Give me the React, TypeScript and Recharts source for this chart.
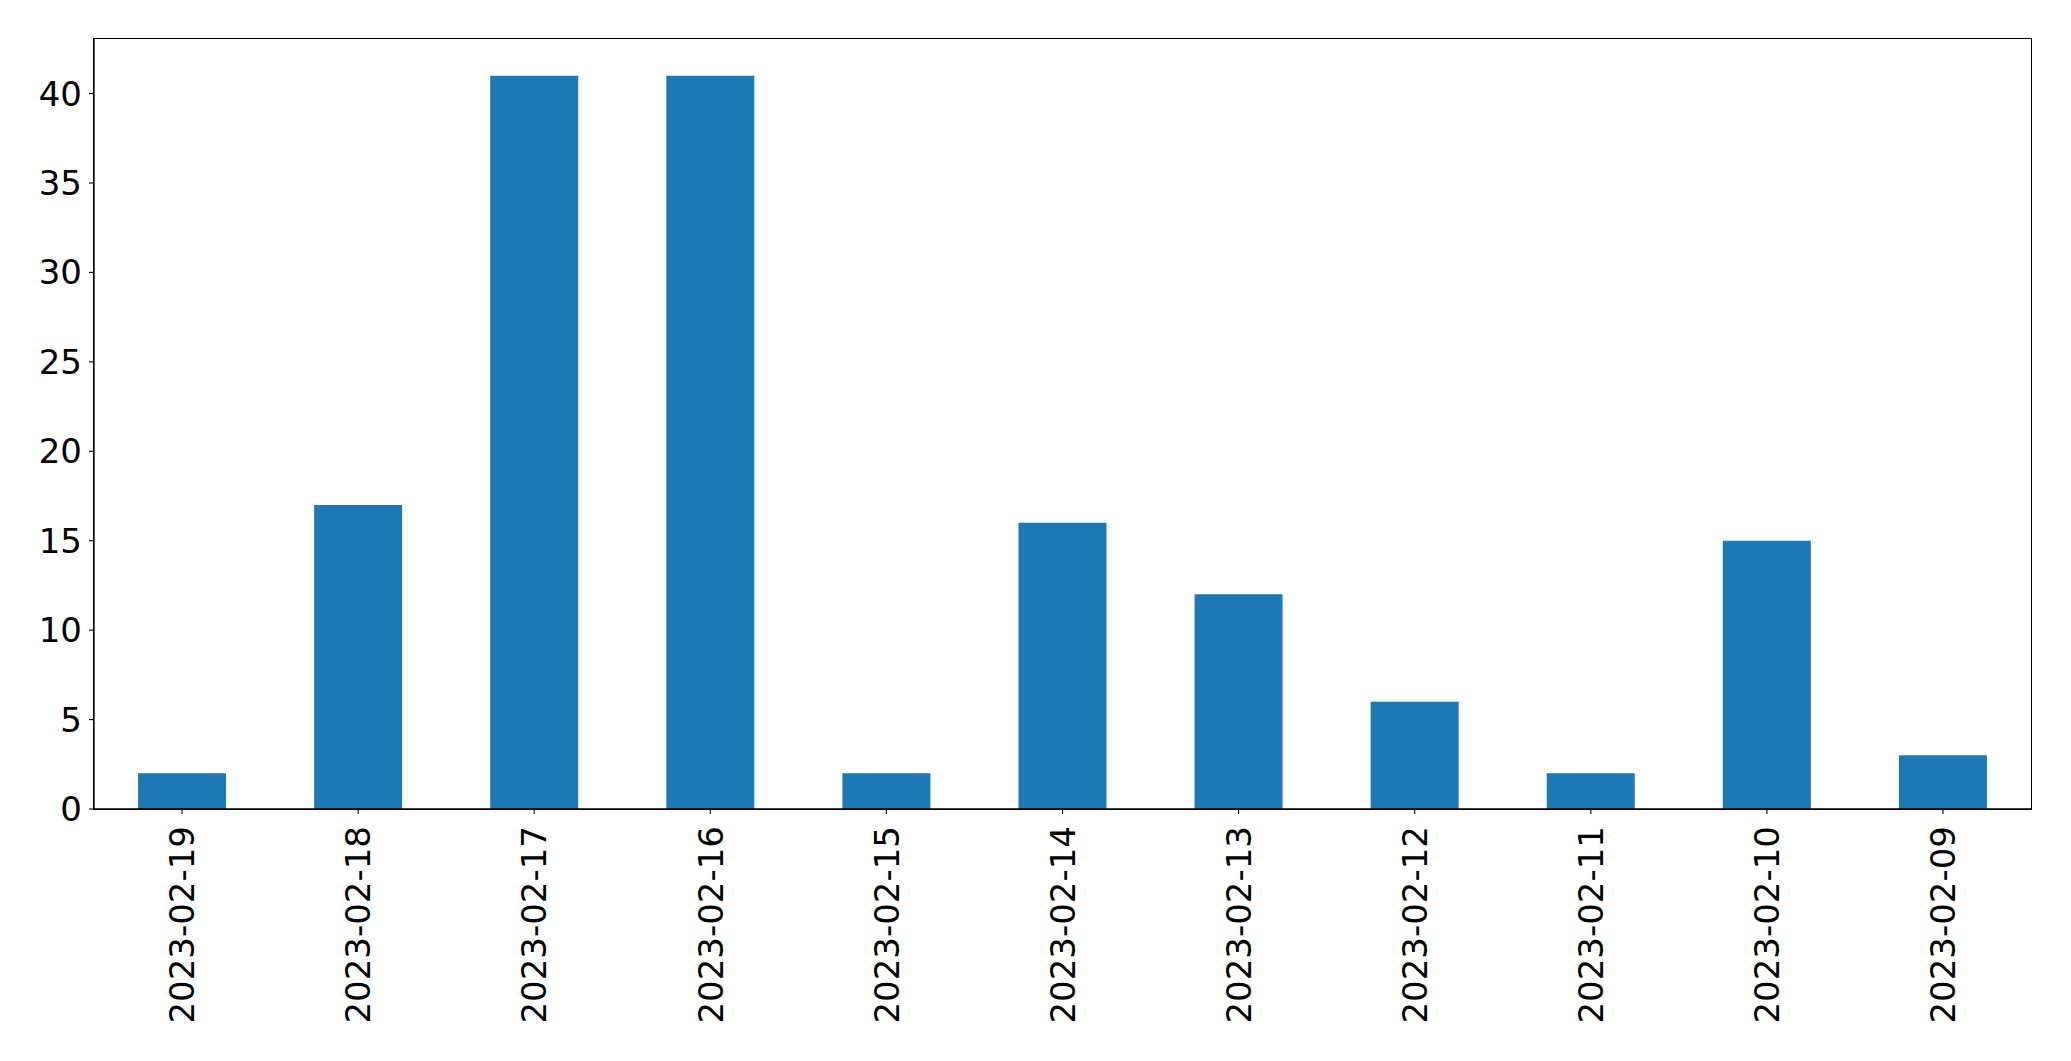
import React from "react"
import { Bar, BarChart, XAxis, YAxis } from "recharts"

const dates = [
  "2023-02-19",
  "2023-02-18",
  "2023-02-17",
  "2023-02-16",
  "2023-02-15",
  "2023-02-14",
  "2023-02-13",
  "2023-02-12",
  "2023-02-11",
  "2023-02-10",
  "2023-02-09",
]
const counts = [2, 17, 41, 41, 2, 16, 12, 6, 2, 15, 3]
const yTicks = [0, 5, 10, 15, 20, 25, 30, 35, 40]

const data = dates.map((date, i) => ({ date, count: counts[i] }))

const FONT = "DejaVu Sans"
const FONT_SIZE = 34

const W = 2071
const H = 1061
const M = { top: 39, right: 40, left: 94, bottom: 252 }

const DateTick = (props: any) => {
  const { x, y, payload } = props
  const ty = y + 10
  return (
    <text
      x={x}
      y={ty}
      transform={`rotate(-90, ${x}, ${ty})`}
      textAnchor="end"
      dy="0.36em"
      fontFamily={FONT}
      fontSize={FONT_SIZE}
      fill="#000"
    >
      {payload.value}
    </text>
  )
}

export default function App() {
  return (
    <div style={{ position: "absolute", left: 0, top: 0, width: W, height: H, background: "#fff" }}>
      <BarChart
        width={W}
        height={H}
        data={data}
        margin={{ top: M.top, right: M.right, left: 0, bottom: 0 }}
        barCategoryGap="25%"
      >
        <XAxis
          dataKey="date"
          height={M.bottom}
          interval={0}
          tick={<DateTick />}
          tickSize={5}
          axisLine={{ stroke: "#000", strokeWidth: 1.3 }}
          tickLine={{ stroke: "#000", strokeWidth: 1.1 }}
        />
        <YAxis
          width={M.left}
          domain={[0, 43.05]}
          allowDataOverflow
          ticks={yTicks}
          interval={0}
          tickSize={5}
          tickMargin={7}
          tick={{ fill: "#000", fontFamily: FONT, fontSize: FONT_SIZE }}
          axisLine={{ stroke: "#000", strokeWidth: 1.3 }}
          tickLine={{ stroke: "#000", strokeWidth: 1.1 }}
        />
        <Bar dataKey="count" fill="#1f77b4" isAnimationActive={false} />
      </BarChart>
      {/* frame around the plot area */}
      <div
        style={{
          position: "absolute",
          left: M.left - 0.65,
          top: M.top - 0.65,
          width: W - M.left - M.right,
          height: H - M.top - M.bottom,
          border: "1.3px solid #000",
          pointerEvents: "none",
        }}
      />
    </div>
  )
}
